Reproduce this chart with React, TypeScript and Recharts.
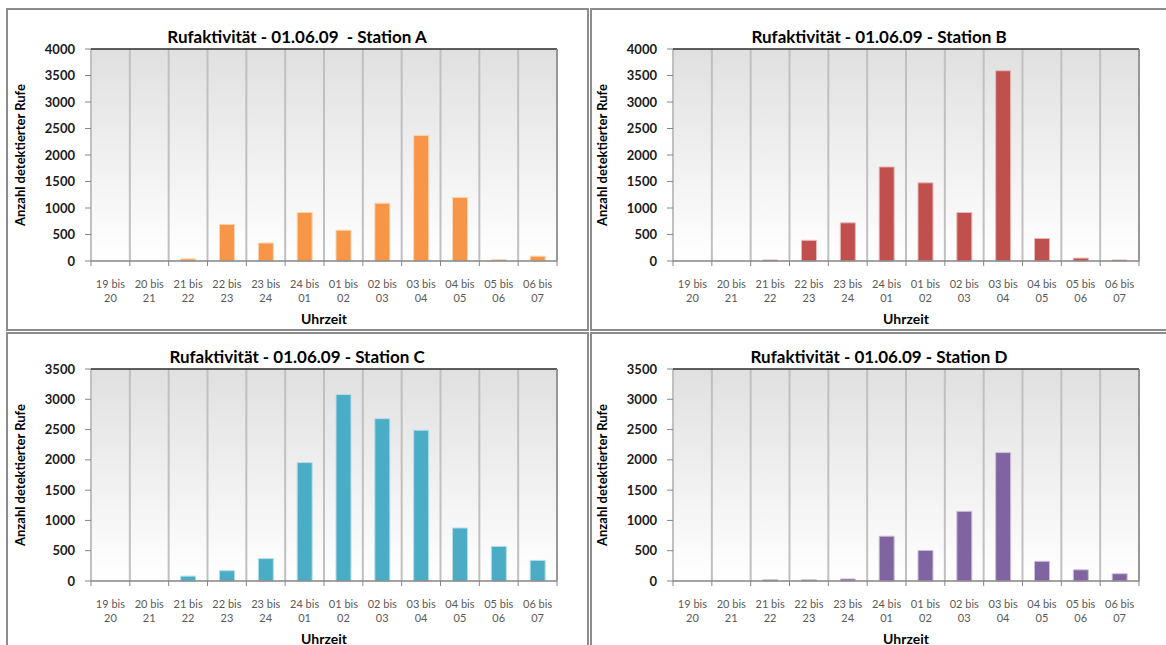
import React from 'react';
import { BarChart, Bar, XAxis, YAxis, CartesianGrid } from 'recharts';

// Zeitfenster der Nacht (Stundenintervalle)
const slots = [
  '19 bis 20', '20 bis 21', '21 bis 22', '22 bis 23', '23 bis 24', '24 bis 01',
  '01 bis 02', '02 bis 03', '03 bis 04', '04 bis 05', '05 bis 06', '06 bis 07',
];

// Anzahl detektierter Rufe je Station
const stationA = [0, 0, 40, 690, 340, 915, 580, 1090, 2370, 1200, 25, 90];
const stationB = [0, 0, 20, 390, 720, 1775, 1475, 915, 3590, 425, 55, 20];
const stationC = [0, 0, 80, 170, 370, 1955, 3080, 2680, 2490, 875, 570, 340];
const stationD = [0, 0, 20, 20, 35, 740, 505, 1150, 2120, 325, 185, 120];

const ticksAB = [0, 500, 1000, 1500, 2000, 2500, 3000, 3500, 4000];
const ticksCD = [0, 500, 1000, 1500, 2000, 2500, 3000, 3500];

const W = 580;
const H = 320;
const M = { top: 40, right: 30, left: 24, bottom: 0 };
const Y_W = 60;
const X_H = 68;
const PLOT_L = M.left + Y_W;
const PLOT_W = W - PLOT_L - M.right;
const PLOT_B = H - M.bottom - X_H;
const BAND = PLOT_W / slots.length;
const FONT = "Lato, 'Open Sans', sans-serif";

const SlotTick = (props: any) => {
  const { x, payload, index } = props;
  const [from, to] = String(payload.value).split(' bis ');
  const half = BAND / 2;
  return (
    <g>
      <line x1={x - half} x2={x - half} y1={PLOT_B} y2={PLOT_B + 5} stroke="#868686" />
      {index === slots.length - 1 && (
        <line x1={x + half} x2={x + half} y1={PLOT_B} y2={PLOT_B + 5} stroke="#868686" />
      )}
      <text x={x} y={PLOT_B + 27} textAnchor="middle" fontSize={11} fill="#595959" fontFamily={FONT}>
        {from} bis
      </text>
      <text x={x} y={PLOT_B + 41} textAnchor="middle" fontSize={11} fill="#595959" fontFamily={FONT}>
        {to}
      </text>
    </g>
  );
};

interface PanelProps {
  id: string;
  left: number;
  top: number;
  title: string;
  values: number[];
  ticks: number[];
  color: string;
  edge: string;
}

const Panel: React.FC<PanelProps> = ({ id, left, top, title, values, ticks, color, edge }) => {
  const data = slots.map((slot, i) => ({ slot, rufe: values[i] }));
  const gridX = Array.from({ length: slots.length + 1 }, (_, i) => PLOT_L + i * BAND);
  return (
    <div style={{ position: 'absolute', left, top, width: W, height: H }}>
      <BarChart width={W} height={H} data={data} margin={M} barSize={15}>
        <defs>
          <linearGradient id={`bg${id}`} x1="0" y1="0" x2="0" y2="1">
            <stop offset="0" stopColor="#e0e0e0" />
            <stop offset="1" stopColor="#ffffff" />
          </linearGradient>
        </defs>
        <CartesianGrid
          horizontal={false}
          verticalPoints={gridX}
          fill={`url(#bg${id})`}
          stroke="#c0c0c0"
          strokeWidth={2}
        />
        <CartesianGrid vertical={false} horizontalPoints={[M.top]} stroke="#2b2b2b" strokeWidth={1.5} />
        <CartesianGrid horizontal={false} verticalPoints={[PLOT_L + PLOT_W]} stroke="#8a8a8a" strokeWidth={1.5} />
        <XAxis
          dataKey="slot"
          height={X_H}
          interval={0}
          tickLine={false}
          tickSize={0}
          axisLine={{ stroke: '#868686', strokeWidth: 1.5 }}
          tick={<SlotTick />}
        />
        <YAxis
          domain={[0, ticks[ticks.length - 1]]}
          ticks={ticks}
          width={Y_W}
          axisLine={false}
          tickLine={{ stroke: '#868686' }}
          tickSize={6}
          tickMargin={10}
          tick={{ fontSize: 13, fontWeight: 700, fill: '#1a1a1a', fontFamily: FONT }}
        />
        <Bar dataKey="rufe" fill={color} stroke={edge} strokeWidth={1} isAnimationActive={false} />
      </BarChart>
      <div
        style={{
          position: 'absolute', left: 0, top: 18, width: W, textAlign: 'center',
          fontSize: 17, fontWeight: 700, lineHeight: '20px', whiteSpace: 'pre', color: '#000',
        }}
      >
        {title}
      </div>
      <div
        style={{
          position: 'absolute', left: 13, top: (M.top + PLOT_B) / 2,
          transform: 'translate(-50%, -50%) rotate(-90deg)', whiteSpace: 'nowrap',
          fontSize: 13, fontWeight: 700, color: '#000',
        }}
      >
        Anzahl detektierter Rufe
      </div>
      <div
        style={{
          position: 'absolute', left: PLOT_L + PLOT_W / 2, top: 309,
          transform: 'translate(-50%, -50%)', fontSize: 14, fontWeight: 700, color: '#000',
        }}
      >
        Uhrzeit
      </div>
    </div>
  );
};

const frame = (left: number, top: number, width: number, height: number): React.CSSProperties => ({
  position: 'absolute', left, top, width, height, border: '2px solid #8c8c8c', boxSizing: 'border-box',
});

export default function App() {
  return (
    <div
      style={{
        position: 'absolute', left: 0, top: 0, width: 1166, height: 645, overflow: 'hidden',
        background: '#fff', fontFamily: FONT,
      }}
    >
      <div style={frame(6, 8, 583, 323)} />
      <div style={frame(590, 8, 600, 323)} />
      <div style={frame(6, 332, 583, 400)} />
      <div style={frame(590, 332, 600, 400)} />
      <Panel id="A" left={7} top={9} title="Rufaktivität - 01.06.09  - Station A" values={stationA} ticks={ticksAB} color="#f79646" edge="#fcd5b5" />
      <Panel id="B" left={589} top={9} title="Rufaktivität - 01.06.09 - Station B" values={stationB} ticks={ticksAB} color="#c0504d" edge="#e6b9b8" />
      <Panel id="C" left={7} top={329} title="Rufaktivität - 01.06.09 - Station C" values={stationC} ticks={ticksCD} color="#4bacc6" edge="#b7dee8" />
      <Panel id="D" left={589} top={329} title="Rufaktivität - 01.06.09 - Station D" values={stationD} ticks={ticksCD} color="#8064a2" edge="#ccc0da" />
    </div>
  );
}
